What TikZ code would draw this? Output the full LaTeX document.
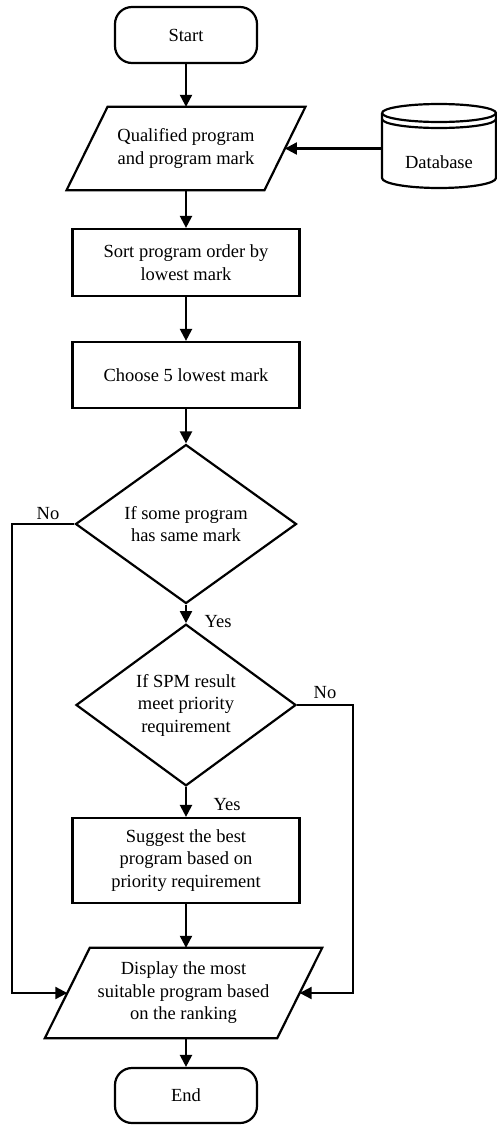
\documentclass[tikz,border=0pt]{standalone}
\usepackage{fontspec}
\setmainfont{Liberation Serif}
\usetikzlibrary{arrows.meta,shapes.geometric}
\begin{document}
\begin{tikzpicture}[x=1pt,y=-1pt,
  txt/.style={font=\fontsize{18.5}{22.5}\selectfont, align=center, inner sep=0pt},
  ln/.style={line width=2.2pt, line join=miter},
  term/.style={txt, ln, draw, rectangle, rounded corners=17pt, minimum width=142pt, minimum height=56pt},
  proc/.style={txt, ln, draw, rectangle, minimum width=227pt},
  parabox/.style={txt, rectangle},
  dec/.style={txt, ln, draw, diamond},
  arr/.style={ln, -{Triangle[length=12pt,width=12pt]}},
  lbl/.style={font=\fontsize{18.5}{22.5}\selectfont, inner sep=0pt}
]
\useasboundingbox (0,0) rectangle (497,1125);

% nodes
\node[term] (start) at (186,35) {Start};

\node[parabox, minimum width=197.5pt, minimum height=83pt] (p1) at (186,148.5) {Qualified program\\and program mark};
\draw[ln] ([xshift=20.5pt]p1.north west) -- ([xshift=20.5pt]p1.north east) -- ([xshift=-20.5pt]p1.south east) -- ([xshift=-20.5pt]p1.south west) -- cycle;

% database cylinder
\node[rectangle, minimum width=114pt, minimum height=84pt, inner sep=0pt] (db) at (439,148.5) {};
\draw[ln] (382,113) -- (382,178) arc[start angle=180, end angle=360, x radius=57, y radius=-10] -- (496,113)
  arc[start angle=0, end angle=180, x radius=57, y radius=-9];
\draw[ln] (382,113) arc[start angle=180, end angle=360, x radius=57, y radius=-9];
\draw[ln] (382,119) arc[start angle=180, end angle=360, x radius=57, y radius=-9];
\node[lbl] (dbt) at (439,162) {Database};

\node[proc, minimum height=67pt] (sort) at (186,262.5) {Sort program order by\\lowest mark};
\node[proc, minimum height=66pt] (choose) at (186,375) {Choose 5 lowest mark};

\node[dec, minimum width=221pt, minimum height=138pt] (d1) at (186,524) {If some program\\has same mark};
\node[dec, minimum width=220pt, minimum height=140pt] (d2) at (186,705) {If SPM result\\meet priority\\requirement};

\node[proc, minimum height=85pt] (sug) at (186,860.5) {Suggest the best\\program based on\\priority requirement};

\node[parabox, minimum width=232pt, minimum height=90pt] (p2) at (183.5,993) {Display the most\\suitable program based\\on the ranking};
\draw[ln] ([xshift=22.5pt]p2.north west) -- ([xshift=22.5pt]p2.north east) -- ([xshift=-22.5pt]p2.south east) -- ([xshift=-22.5pt]p2.south west) -- cycle;

\node[term, minimum height=55pt] (end) at (186,1095.5) {End};

% labels
\node[lbl] (no1) at (48,514) {No};
\node[lbl] (yes1) at (218,622) {Yes};
\node[lbl] (no2) at (325,693) {No};
\node[lbl] (yes2) at (227,805) {Yes};

% connectors
\draw[arr] (start.south) -- (start.south |- p1.north);
\draw[arr] (db.west) -- (p1.east);
\draw[arr] (p1.south -| sort.north) -- (sort.north);
\draw[arr] (sort.south) -- (choose.north);
\draw[arr] (choose.south) -- (d1.north);
\draw[arr] (d1.south) -- (d2.north);
\draw[arr] (d2.south) -- (sug.north);
\draw[arr] (sug.south) -- (sug.south |- p2.north);
\draw[arr] (p2.south -| end.north) -- (end.north);
\coordinate (lft) at (12,524);
\coordinate (rgt) at (353,705);
\draw[arr] (d1.west) -- (lft) |- (p2.west);
\draw[arr] (d2.east) -- (rgt) |- (p2.east);
\end{tikzpicture}
\end{document}
